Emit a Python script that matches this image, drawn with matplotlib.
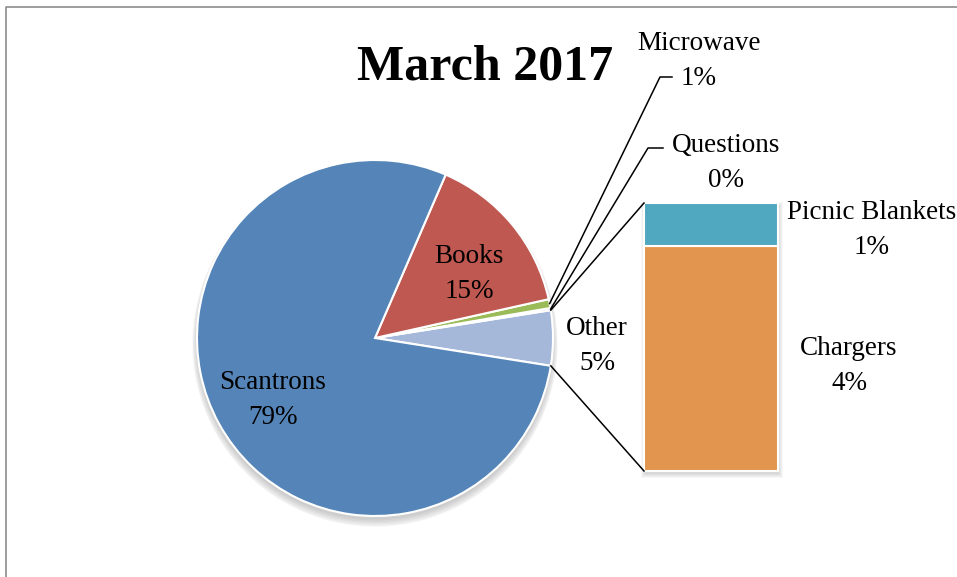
import numpy as np
import matplotlib
matplotlib.use("Agg")
import matplotlib.pyplot as plt
from matplotlib.patches import Circle

# data (counts, percentages shown on the chart)
pie_labels = ["Other", "Questions", "Microwave", "Books", "Scantrons"]
bar_labels = ["Chargers", "Picnic Blankets"]
bar_values = [21, 4]
pie_values = [sum(bar_values), 1, 4, 75, 395]
pie_colors = ["#a5b8da", "#8064a2", "#9bbb59", "#be5851", "#5585b8"]
bar_colors = ["#e2954f", "#50a8c0"]
title = "March 2017"

total = sum(pie_values)

plt.rcParams['font.family'] = ['Liberation Serif', 'DejaVu Serif']

fig = plt.figure(figsize=(9.57, 5.77), dpi=100)
ax = fig.add_axes([0, 0, 1, 1])
ax.set_xlim(0, 957)
ax.set_ylim(0, 577)
ax.set_aspect('equal')
ax.axis('off')

cx, cy, r = 375, 239, 178
start = -180 * pie_values[0] / total

# soft shadow under the pie
for i in range(6):
    ax.add_patch(Circle((cx, cy - 4 - i * 0.4), r - 1 + i * 1.0, color='black', alpha=0.03, zorder=0))

wedges, _ = ax.pie(pie_values, colors=pie_colors, center=(cx, cy), radius=r,
                   startangle=start, counterclock=True, frame=True,
                   wedgeprops=dict(edgecolor='white', linewidth=1.5))
ax.set_xlim(0, 957)
ax.set_ylim(0, 577)
ax.axis('off')

# bar of the "Other" slice
bx, bw, bbottom, btop = 711, 134, 106, 374
scale = (btop - bbottom) / sum(bar_values)
for i in range(5):
    ax.bar(bx + 1, (btop - bbottom) + 2 * i, width=bw + 2 * i, bottom=bbottom - 3 - i,
           color='black', alpha=0.03, zorder=1)
bottom = bbottom
for val, col in zip(bar_values, bar_colors):
    ax.bar(bx, val * scale, width=bw, bottom=bottom, color=col,
           edgecolor='white', linewidth=1.5, zorder=2)
    bottom += val * scale

# connector lines from slice to bar
a1 = np.deg2rad(start + 360 * pie_values[0] / total)
a0 = np.deg2rad(start)
ax.plot([cx + r * np.cos(a1), bx - bw / 2], [cy + r * np.sin(a1), btop], color='black', lw=1.1, zorder=3)
ax.plot([cx + r * np.cos(a0), bx - bw / 2], [cy + r * np.sin(a0), bbottom], color='black', lw=1.1, zorder=3)

def pct(v):
    return f"{round(100 * v / total):.0f}%"

fs = 19.5
ls = 1.5
# leader lines for small slices
cum = np.cumsum([0] + pie_values)
leader = {"Questions": ((648, 429), (663, 429)), "Microwave": ((660, 500), (672, 500))}
for name, (p1, p2) in leader.items():
    i = pie_labels.index(name)
    mid = np.deg2rad(start + 360 * (cum[i] + cum[i + 1]) / 2 / total)
    ax.plot([cx + r * np.cos(mid), p1[0], p2[0]], [cy + r * np.sin(mid), p1[1], p2[1]],
            color='black', lw=1.1, zorder=3)

label_pos = {"Scantrons": (273, 177), "Books": (469, 303), "Other": (597, 231),
             "Questions": (726, 414), "Microwave": (699, 516)}
for name, v in zip(pie_labels, pie_values):
    x, y = label_pos[name]
    ax.text(x, y, f"{name}\n{pct(v)}", ha='center', va='center', fontsize=fs, linespacing=ls)

bar_pos = {"Chargers": (849, 211), "Picnic Blankets": (872, 347)}
for name, v in zip(bar_labels, bar_values):
    x, y = bar_pos[name]
    ax.text(x, y, f"{name}\n{pct(v)}", ha='center', va='center', fontsize=fs, linespacing=ls)

ax.text(485, 510, title, ha='center', va='center', fontsize=36, fontweight='bold')

# chart border
ax.plot([6, 6, 960], [-5, 570, 570], color='#8c8c8c', lw=1.2, clip_on=False)

fig.savefig("out.png", dpi=100)
